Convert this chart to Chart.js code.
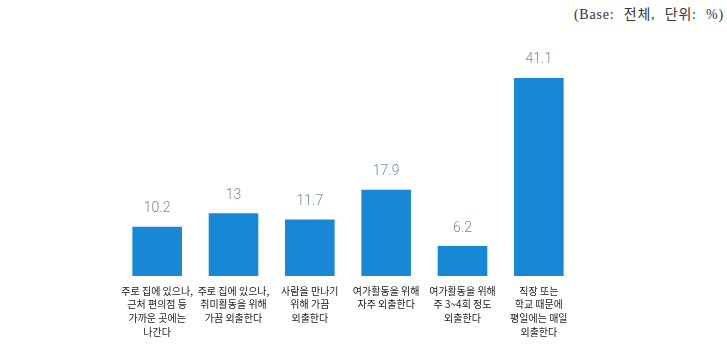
<!DOCTYPE html>
<html><head><meta charset="utf-8">
<script src="https://cdn.jsdelivr.net/npm/chart.js@4/dist/chart.umd.min.js"></script>
<style>
html,body{margin:0;padding:0;background:#fff;}
#wrap{position:relative;width:727px;height:356px;}
#note{position:absolute;right:3px;top:3px;font-family:"Liberation Serif","DejaVu Serif","Noto Sans CJK KR",serif;font-size:14px;color:#333;white-space:pre;word-spacing:5px;letter-spacing:0.8px;}
canvas{position:absolute;left:0;top:0;}
</style></head>
<body>
<div id="wrap"><div id="note">(Base: 전체, 단위: %)</div><canvas id="c" width="727" height="356"></canvas></div>
<script>
const categories = [
  ["주로 집에 있으나,", "근처 편의점 등", "가까운 곳에는", "나간다"],
  ["주로 집에 있으나,", "취미활동을 위해", "가끔 외출한다"],
  ["사람을 만나기", "위해 가끔", "외출한다"],
  ["여가활동을 위해", "자주 외출한다"],
  ["여가활동을 위해", "주 3~4회 정도", "외출한다"],
  ["직장 또는", "학교 때문에", "평일에는 매일", "외출한다"]
];
const values = [10.2, 13, 11.7, 17.9, 6.2, 41.1];
const valueLabels = ["10.2", "13", "11.7", "17.9", "6.2", "41.1"];

const valuePlugin = {
  id: 'valueLabels',
  afterDatasetsDraw(chart) {
    const ctx = chart.ctx;
    const meta = chart.getDatasetMeta(0);
    ctx.save();
    ctx.font = '300 14px Roboto, "Open Sans", sans-serif';
    ctx.fillStyle = '#6f8ca3';
    ctx.textAlign = 'center';
    ctx.textBaseline = 'middle';
    meta.data.forEach((bar, i) => {
      ctx.fillText(valueLabels[i], bar.x, bar.y - 18);
    });
    ctx.restore();
  }
};

new Chart(document.getElementById('c'), {
  type: 'bar',
  data: {
    labels: categories,
    datasets: [{
      data: values,
      backgroundColor: '#1888d6',
      borderWidth: 0,
      barPercentage: 0.65,
      categoryPercentage: 1.0
    }]
  },
  options: {
    responsive: false,
    animation: false,
    devicePixelRatio: 1,
    layout: { padding: { left: 119, right: 150, top: 35, bottom: 0 } },
    plugins: { legend: { display: false }, tooltip: { enabled: false } },
    scales: {
      x: {
        grid: { display: false },
        border: { display: false },
        ticks: {
          color: '#1a1a1a',
          font: { family: '"Noto Sans CJK KR", sans-serif', size: 10, lineHeight: 1.37 },
          padding: 0,
          maxRotation: 0,
          autoSkip: false
        },
        afterFit(scale) { scale.height = 80; }
      },
      y: {
        display: false,
        min: 0,
        max: 50
      }
    }
  },
  plugins: [valuePlugin]
});
</script>
</body></html>
